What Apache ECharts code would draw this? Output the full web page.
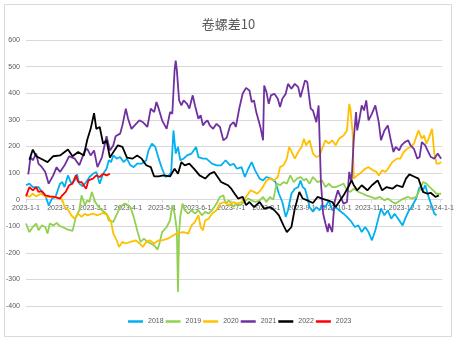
<!DOCTYPE html>
<html><head><meta charset="utf-8">
<script src="https://cdn.jsdelivr.net/npm/echarts@6/dist/echarts.min.js"></script>
<style>html,body{margin:0;padding:0;background:#fff}#c{width:457px;height:342px}</style>
</head><body><div id="c"></div>
<script>
const monthDays=[0,31,59,90,120,151,181,212,243,273,304,334,365];
const tickLabels=['2023-1-1','2023-2-1','2023-3-1','2023-4-1','2023-5-1','2023-6-1','2023-7-1','2023-8-1','2023-9-1','2023-10-1','2023-11-1','2023-12-1','2024-1-1'];
const seriesNames=['2018','2019','2020','2021','2022','2023'];
const seriesColors=['#00B0F0','#92D050','#FFC000','#7030A0','#000000','#FF0000'];
// [day offset from 2023-01-01, value]
const s2018=[[0,54],[3,60],[6,47],[11,47],[14,29],[17,16],[20,-21],[23,4],[26,10],[30,60],[32,66],[34,47],[37,91],[40,60],[43,72],[45,95],[47,60],[50,50],[53,66],[56,85],[59,97],[62,104],[65,60],[68,97],[71,116],[73,148],[75,141],[77,166],[80,154],[83,160],[86,141],[89,154],[92,129],[95,122],[98,135],[102,135],[106,148],[108,185],[111,210],[114,198],[117,154],[120,116],[123,85],[126,91],[128,104],[130,260],[132,173],[134,198],[136,148],[139,154],[142,166],[146,173],[150,198],[152,160],[156,154],[159,154],[164,135],[168,129],[172,129],[176,148],[180,129],[183,135],[186,116],[190,122],[193,85],[196,116],[199,141],[202,110],[206,79],[209,72],[212,85],[216,79],[220,66],[223,22],[226,-9],[229,-65],[231,-40],[234,22],[237,41],[240,47],[242,72],[244,47],[246,40],[248,10],[250,-28],[253,-46],[256,-28],[259,-40],[261,-21],[264,-28],[267,-3],[270,-40],[273,-28],[276,-40],[280,-53],[283,-65],[287,-84],[290,-103],[293,-97],[296,-122],[299,-103],[302,-122],[305,-153],[308,-115],[311,-65],[313,-34],[316,-59],[319,-40],[322,-72],[325,-53],[329,-78],[332,-97],[335,-65],[337,-46],[340,-28],[344,4],[347,47],[350,35],[352,54],[355,10],[358,-28],[360,-53],[362,-59]];
const s2019=[[0,-90],[3,-122],[6,-103],[9,-90],[11,-115],[14,-97],[17,-103],[19,-128],[21,-90],[24,-97],[27,-88],[30,-100],[33,-105],[37,-113],[41,-118],[44,-65],[47,-40],[49,16],[52,-21],[54,-3],[56,-9],[58,29],[61,-9],[64,-28],[67,-40],[71,-53],[73,-78],[77,-84],[79,-65],[83,-28],[87,-15],[90,-21],[92,-28],[95,-65],[98,-115],[101,-159],[104,-147],[107,-159],[110,-165],[113,-172],[116,-188],[118,-159],[120,-122],[124,-103],[127,-78],[129,-21],[131,-53],[133,-115],[134,-347],[135,-122],[136,-65],[138,-15],[140,-40],[143,-53],[146,-40],[149,-53],[152,-40],[155,-59],[158,-46],[161,-53],[164,-40],[168,-15],[171,10],[174,16],[176,-15],[179,-3],[183,-28],[185,-15],[189,-21],[192,-9],[196,4],[199,-3],[202,-9],[206,-3],[209,10],[212,-9],[215,10],[218,0],[221,60],[224,54],[227,66],[230,60],[233,91],[236,66],[239,79],[242,85],[245,72],[247,79],[250,60],[253,85],[257,66],[261,72],[264,47],[267,60],[270,47],[273,47],[277,54],[280,60],[283,35],[286,29],[289,41],[293,29],[297,22],[300,16],[304,10],[308,4],[312,10],[316,-3],[319,4],[323,-9],[326,-15],[330,-3],[333,4],[337,10],[340,4],[344,10],[347,35],[350,66],[353,60],[356,47],[359,35],[362,22],[366,22]];
const s2020=[[0,20],[3,10],[6,22],[9,12],[13,22],[18,10],[24,10],[28,7],[32,0],[34,-28],[37,-38],[40,-59],[43,-72],[46,-53],[49,-65],[52,-53],[54,-59],[59,-53],[63,-59],[68,-50],[72,-59],[75,-84],[77,-128],[80,-153],[82,-178],[85,-159],[88,-165],[92,-159],[97,-153],[100,-165],[103,-178],[106,-159],[109,-153],[113,-165],[117,-153],[120,-153],[125,-147],[130,-134],[134,-125],[139,-122],[143,-128],[146,-97],[149,-84],[152,-59],[154,-103],[156,-115],[158,-78],[161,-72],[164,-53],[168,-40],[171,-15],[175,-9],[179,-21],[183,-9],[186,-15],[190,-9],[194,10],[198,35],[201,29],[204,22],[208,41],[212,72],[215,79],[219,72],[222,85],[224,122],[227,129],[230,154],[232,198],[235,173],[237,154],[240,179],[243,198],[245,229],[247,204],[250,223],[253,173],[256,160],[259,166],[261,191],[264,223],[267,210],[270,223],[273,204],[276,229],[280,241],[283,260],[285,360],[286,342],[288,248],[289,79],[292,91],[296,104],[299,116],[302,122],[306,110],[309,104],[311,91],[314,110],[317,104],[320,122],[323,141],[327,154],[330,154],[333,179],[336,191],[339,198],[342,210],[344,235],[346,260],[349,229],[351,241],[353,210],[355,229],[358,266],[360,173],[362,135],[364,135],[366,141]];
const s2021=[[2,95],[4,160],[6,148],[9,173],[11,135],[14,122],[17,104],[20,60],[24,91],[27,122],[30,104],[34,129],[38,163],[43,154],[47,129],[52,185],[54,191],[57,166],[60,185],[63,122],[67,160],[71,238],[74,185],[77,204],[79,238],[83,248],[85,279],[88,342],[90,304],[93,266],[97,285],[100,298],[103,291],[107,273],[110,342],[113,329],[115,367],[117,342],[120,298],[124,266],[127,329],[129,323],[131,486],[132,523],[133,486],[135,373],[137,354],[139,373],[142,360],[144,342],[147,392],[149,354],[152,304],[154,317],[156,279],[158,291],[160,298],[162,279],[165,266],[168,285],[171,273],[174,223],[177,233],[180,279],[183,291],[185,273],[188,342],[191,398],[194,420],[197,410],[199,367],[201,373],[203,329],[205,298],[207,266],[209,223],[210,429],[212,404],[214,360],[216,392],[219,398],[222,379],[224,348],[226,379],[229,398],[231,435],[234,417],[237,435],[240,423],[242,385],[246,448],[248,442],[251,342],[253,335],[256,291],[258,354],[260,66],[262,-53],[264,-90],[266,-122],[267,-90],[270,-122],[272,-9],[275,35],[278,4],[280,-15],[283,-9],[285,104],[287,66],[289,229],[291,329],[292,260],[294,304],[296,354],[298,335],[300,373],[302,298],[305,323],[308,354],[311,291],[313,223],[316,260],[319,279],[322,216],[324,179],[326,198],[329,185],[331,204],[334,216],[337,223],[339,204],[342,191],[345,154],[347,160],[349,216],[352,204],[354,185],[357,160],[360,154],[363,173],[366,154]];
const s2022=[[3,150],[6,188],[9,163],[15,150],[19,141],[24,163],[30,166],[37,188],[41,163],[46,179],[51,166],[54,225],[57,266],[60,325],[62,266],[65,273],[68,210],[71,223],[74,158],[78,185],[81,204],[85,198],[89,158],[94,154],[98,166],[102,154],[106,129],[110,122],[113,87],[117,87],[121,91],[127,87],[131,116],[134,97],[137,141],[140,129],[144,135],[149,112],[153,91],[158,79],[162,97],[166,104],[169,85],[172,66],[175,60],[178,54],[181,41],[184,22],[187,4],[191,10],[194,-21],[197,-9],[201,-28],[206,-9],[210,-34],[215,-28],[219,-40],[223,-59],[227,-97],[230,-122],[234,-103],[237,-34],[241,29],[244,4],[248,-3],[253,-13],[257,10],[261,4],[266,-3],[270,-9],[273,-28],[276,-9],[280,16],[285,54],[287,72],[289,54],[292,35],[296,54],[301,35],[305,54],[310,72],[314,35],[318,47],[323,41],[327,54],[332,47],[335,79],[338,95],[342,87],[346,79],[350,29],[354,22],[357,25],[361,10],[364,16]];
const s2023=[[0,12],[3,47],[6,35],[9,47],[11,29],[14,32],[17,16],[21,12],[25,10],[30,4],[32,16],[35,29],[38,54],[41,60],[44,91],[46,66],[49,66],[53,41],[55,72],[59,79],[62,91],[65,85],[68,97],[71,91],[74,97]];
const seriesData=[s2018,s2019,s2020,s2021,s2022,s2023];

const chart=echarts.init(document.getElementById('c'),null,{renderer:'canvas'});
const txt='#595959', grid='#d9d9d9', font='"Liberation Sans Narrow","Liberation Sans",sans-serif';
const gridTop=40, gridBottom=36, yMin=-400, yMax=600;
const plotH=342-gridTop-gridBottom;
const zeroOffset=-plotH*(0-yMin)/(yMax-yMin);
chart.setOption({
  animation:false,
  backgroundColor:'#fff',
  graphic:[{type:'rect',shape:{x:4.5,y:4.5,width:447,height:332},style:{fill:'none',stroke:grid,lineWidth:1},silent:true}],
  title:{text:'卷螺差10',left:'center',top:13,textStyle:{fontSize:13,fontWeight:'normal',color:txt,fontFamily:'"Noto Sans CJK SC",sans-serif'}},
  legend:{data:seriesNames,left:128,top:318,padding:0,icon:'rect',itemWidth:15,itemHeight:2.5,itemGap:2,
    textStyle:{fontSize:7,color:txt,fontFamily:font}},
  grid:{left:26,right:12,top:gridTop,bottom:gridBottom,containLabel:false},
  xAxis:{type:'value',min:0,max:367,position:'bottom',offset:zeroOffset,
    axisLine:{onZero:false,lineStyle:{color:grid}},
    axisTick:{show:true,customValues:monthDays,length:3,lineStyle:{color:grid}},
    axisLabel:{customValues:monthDays,fontSize:7,color:txt,fontFamily:font,margin:5,
      formatter:function(v){const i=monthDays.indexOf(Math.round(v));return i>=0?tickLabels[i]:'';}},
    splitLine:{show:false}},
  yAxis:{type:'value',min:yMin,max:yMax,interval:100,
    axisLine:{show:false},axisTick:{show:false},
    axisLabel:{fontSize:7,color:txt,fontFamily:font,margin:6},
    splitLine:{lineStyle:{color:grid,width:1}}},
  series:seriesNames.map((n,i)=>({name:n,type:'line',data:seriesData[i],showSymbol:false,symbol:'none',
    lineStyle:{width:1.8,color:seriesColors[i]},itemStyle:{color:seriesColors[i]},z:2+i}))
});
</script></body></html>
